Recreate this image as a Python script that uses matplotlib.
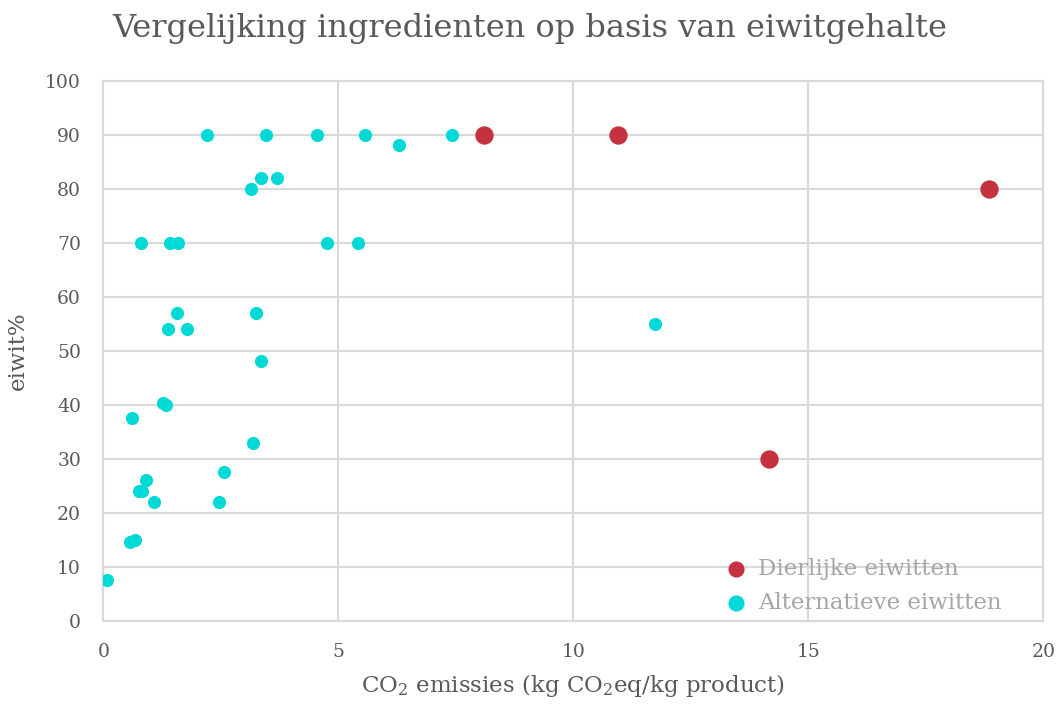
import matplotlib
matplotlib.use("Agg")
import matplotlib.pyplot as plt

plt.rcParams['font.family'] = ['DejaVu Serif']
plt.rcParams['mathtext.fontset'] = 'dejavuserif'

# Dierlijke eiwitten (animal proteins)
animal_x = [8.09, 10.95, 18.84, 14.17]
animal_y = [90, 90, 80, 30]

# Alternatieve eiwitten (alternative proteins)
alt_x = [2.21, 3.46, 4.54, 5.57, 6.29, 7.42, 3.35, 3.70, 3.15,
         0.80, 1.42, 1.58, 4.77, 5.43, 1.56, 3.25, 1.37, 1.79, 3.35,
         11.74, 1.28, 1.33, 0.61, 3.18, 2.56, 0.91, 0.77, 0.82, 1.08,
         2.46, 0.57, 0.67, 0.07]
alt_y = [90, 90, 90, 90, 88, 90, 82, 82, 80,
         70, 70, 70, 70, 70, 57, 57, 54, 54, 48,
         55, 40.4, 39.9, 37.5, 33, 27.5, 26, 24, 24, 22,
         22, 14.6, 15, 7.5]

x_ticks = [0, 5, 10, 15, 20]
y_ticks = [0, 10, 20, 30, 40, 50, 60, 70, 80, 90, 100]

title = "Vergelijking ingredienten op basis van eiwitgehalte"
xlabel = "CO$_2$ emissies (kg CO$_2$eq/kg product)"
ylabel = "eiwit%"
labels = ["Dierlijke eiwitten", "Alternatieve eiwitten"]

red = '#C4323F'
cyan = '#00D9D6'
grid_c = '#D9D9D9'
text_c = '#595959'

fig = plt.figure(figsize=(10.59, 7.04), dpi=100)
ax = fig.add_axes([0.0975, 0.1183, 0.8877, 0.7671])

ax.scatter(animal_x, animal_y, s=175, color=red, label=labels[0], zorder=3, linewidths=0)
ax.scatter(alt_x, alt_y, s=90, color=cyan, label=labels[1], zorder=3, linewidths=0)

ax.set_xlim(0, 20)
ax.set_ylim(0, 100)
ax.set_xticks(x_ticks)
ax.set_yticks(y_ticks)
ax.grid(True, color=grid_c, linewidth=1.5, zorder=0)
ax.set_axisbelow(True)
for s in ax.spines.values():
    s.set_color(grid_c)
    s.set_linewidth(1.5)
ax.tick_params(length=0, labelsize=13.5, colors=text_c, pad=16)

ax.set_xlabel(xlabel, fontsize=16.5, color=text_c, labelpad=8)
ax.set_ylabel(ylabel, fontsize=16.5, color=text_c, labelpad=12)
fig.text(0.5, 0.960, title, ha='center', va='center', fontsize=23, color=text_c)

leg = ax.legend(loc='lower right', frameon=False, fontsize=16.5, handletextpad=0.0,
                labelspacing=0.55, borderaxespad=0.0, borderpad=0.0,
                bbox_to_anchor=(0.956, 0.012))
for t in leg.get_texts():
    t.set_color('#A6A6A6')
for h in leg.legend_handles:
    h.set_sizes([135])

fig.savefig('out.png', dpi=100)
